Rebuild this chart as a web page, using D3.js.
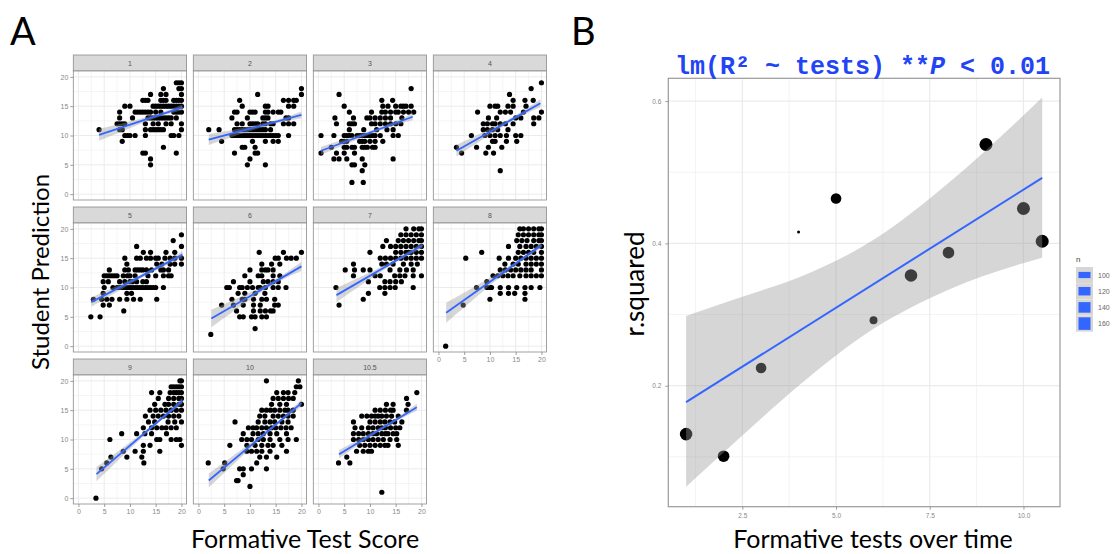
<!DOCTYPE html>
<html>
<head>
<meta charset="utf-8">
<script src="https://cdn.jsdelivr.net/npm/d3@7"></script>
<style>
  body { margin: 0; background: #fff; }
  text { font-family: "Liberation Sans", Arial, sans-serif; }
  .big { font-family: Lato, "Open Sans", sans-serif; fill: #000; }
  text.mono { font-family: "Liberation Mono", "Courier New", monospace; }
</style>
</head>
<body>
<div id="chart"></div>
<script>

// ---- DATA: panel A, one block per formative test ----
// each row: [student prediction, formative score, formative score, ...]
var facetNames = ["1", "2", "3", "4", "5", "6", "7", "8", "9", "10", "10.5"];

var rows1 = [
    [19, 19, 19.5, 20], [18, 16.5, 19.5, 20], [17, 14, 16, 17, 20],
    [16, 12.5, 13, 13.5, 16, 16.5, 17, 18.5, 19, 19.5, 20],
    [15, 9, 10, 14.5, 15, 15.5, 16, 16.5, 17, 17.5, 18, 18.5, 19, 19.5, 20],
    [14, 8, 11, 11.5, 12, 12.5, 13, 13.5, 14, 15, 16, 18.5, 19, 19.5, 20],
    [13, 8, 10.5, 13.5, 14, 14.5, 15, 15.5, 16, 16.5, 17, 17.5, 18, 19],
    [12, 7.5, 8, 8.5, 9, 13, 14.5, 15.5, 17, 18, 20],
    [11, 4, 8, 8.5, 13, 14, 14.5, 15, 15.5, 16, 16.5, 20],
    [10, 9, 9.5, 10, 11, 13, 18, 18.5, 19.5],
    [9, 8.5], [8, 16.5], [7, 12.5, 13, 19], [6, 14], [5, 14]
];
var rows2 = [
    [18, 20], [17, 11.5, 20], [16, 8, 16.5, 17.5, 18.5, 19],
    [15, 8.5, 13, 13.5, 17.5, 18.5],
    [14, 7, 7.5, 10, 10.5, 11, 13, 13.5, 14.5, 15.5, 16],
    [13, 6.5, 9.5, 12.5, 13, 13.5, 17, 17.5],
    [12, 7.5, 8.5, 10, 10.5, 11, 11.5, 12.5, 13, 14, 14.5, 16.5, 17.5, 18.5],
    [11, 2, 4, 7, 7.5, 8, 8.5, 9, 9.5, 10, 10.5, 11, 11.5, 12, 12.5, 13, 14],
    [10, 6.5, 7, 7.5, 8, 8.5, 9, 9.5, 10, 10.5, 11, 11.5, 12, 12.5, 13, 13.5, 14, 14.5, 15, 15.5, 17.5],
    [9, 4.5, 10.5, 13, 14.5, 15.5], [8, 8.5, 9, 11], [7, 7, 11, 11.5], [6, 10], [5, 9.5, 13]
];
var rows3 = [
    [18, 18], [17, 4], [16, 12.3, 14.4],
    [15, 5, 12.5, 13.5, 15, 16, 16.5, 17, 18],
    [14, 6, 10.3, 12.3, 13, 14, 15, 15.5, 16.5, 17.5, 18.5],
    [13, 3.2, 6.8, 9.4, 10, 11, 12, 13, 14, 16.2],
    [12, 3.5, 6, 6.5, 7, 10.3, 11, 12, 13, 14, 15, 16],
    [11, 6, 8.8, 11.3, 13.3, 14.5],
    [10, 0.5, 3, 5, 5.5, 6, 6.5, 7.5, 8, 8.5, 9, 9.5, 10, 10.5, 11, 12, 14.5, 15.5],
    [9, 4.5, 5, 5.5, 8, 8.5, 9, 10, 11, 12.5],
    [8, 2.5, 5, 5.5, 6.5, 7, 8.5, 9, 9.5, 10.5, 11],
    [7, 0.5, 3.5, 5, 7], [6, 3, 4, 5.5, 8.5, 14.5], [5, 6.5, 7, 9], [4, 8.5], [2, 6.5, 8.7]
];
var rows4 = [
    [19, 20], [18, 18], [17, 13.8], [16, 14.5, 16.8, 18.4],
    [15, 10, 11, 11.5, 13.5, 14.5, 17], [14, 7.6, 12, 13, 14, 16.5, 20],
    [13, 9.7, 11.3, 15, 16, 18.5, 19.5], [12, 8.7, 9.5, 10.5, 11, 12, 13, 14.5, 18.5],
    [11, 8.7, 9.5, 10.5, 11.5, 13.5], [10, 6.4, 9, 10, 11, 12, 13.2, 15, 16],
    [9, 10.5, 11, 13.2, 15.2], [8, 3.5, 7.4, 9.7, 12.3], [7, 4.5, 9.2, 10.7], [4, 12]
];
var rows5 = [
    [19, 20], [18, 18.4], [17, 11.3, 20], [16, 12.6, 14, 17, 18.7],
    [15, 9, 11.3, 12, 13.2, 14, 15, 15.5, 16.8, 17.8, 18.7, 20],
    [14, 9.4, 15.2, 16.2, 17.8, 18.7, 20],
    [13, 6, 9, 9.7, 11, 11.5, 12, 12.5, 13.2, 14.2, 16, 16.5, 17.5],
    [12, 5, 5.5, 6, 6.5, 7, 7.5, 8.7, 9.5, 10, 11, 13.5, 15, 16.5, 17.5, 18],
    [11, 4.8, 5.8, 8, 9, 10, 10.5, 11.3, 12.5, 13.2],
    [10, 5, 6.7, 7.5, 8, 8.5, 9, 9.5, 10, 10.5, 11, 11.5, 12, 12.5, 13, 13.5, 14, 14.5, 15, 16.5],
    [9, 4.8, 9.4, 10.3], [8, 2.9, 4.5, 5.5, 6.5, 8, 9.4, 10.7, 12, 15.2],
    [7, 4.8, 6], [6, 8.8], [5, 2.4, 4.2]
];
var rows6 = [
    [16, 11.8, 16.5, 20], [15, 14.9, 15.5, 17.1, 18, 19], [14, 12.3, 14.2, 15.8],
    [13, 10, 12.3, 13, 13.5, 14.5], [12, 9, 11.6, 12.3, 14.5, 15.8],
    [11, 6.8, 10, 12.6, 13.5, 14.5, 15.5],
    [10, 5.5, 6, 8, 8.5, 9.5, 10.5, 11.6, 12, 13, 14.5, 15.5, 17],
    [9, 7.7, 9, 11, 12.9], [8, 6.5, 8.5, 9, 10.7, 12.3, 13.2, 14.8],
    [7, 4.5, 6.8, 8.7, 10.7, 12, 14.8, 15.5], [6, 7.4, 10.7, 12, 13, 14, 14.5],
    [5, 8, 8.7, 10.3, 11, 12.3, 13.2], [3, 11], [2, 2.4]
];
var rows7 = [
    [20, 17, 18.5, 19.5, 20], [19, 16, 17, 18, 19, 20],
    [18, 13.2, 15.5, 16.5, 17.5, 18.5, 19.5, 20],
    [17, 12.5, 14, 15, 16, 17, 18, 19, 20], [16, 10, 15, 16, 17, 17.5, 18, 19, 20],
    [15, 12, 13, 14, 15, 16, 17, 18, 19, 20], [14, 6.8, 12.3, 13.2, 14.5, 16.5, 18, 19.2],
    [13, 5.2, 7, 8.7, 10, 13.9, 15.8, 17.1, 18.4],
    [12, 6.8, 11, 12, 14.8, 15.8, 16.8, 18.4, 20], [11, 9.7, 12.9, 13.9, 15, 16.1],
    [10, 3.4, 11.9, 12.9, 13.9, 14.9, 18.4], [9, 9.7, 12.9], [8, 8.7], [7, 4]
];
var rows8 = [
    [20, 15.8, 16.5, 17.5, 18.5, 19.5, 20], [19, 15.5, 16.5, 17.5, 18.5, 19.5, 20],
    [18, 15.2, 16.2, 17.2, 18.5, 19.5, 20], [17, 13.6, 15.8, 17, 18, 19, 20],
    [16, 8.4, 15.5, 16.5, 17.5, 18.5, 20], [15, 5.3, 11.8, 13.6, 15, 16, 17, 18, 19, 20],
    [14, 12.9, 14.5, 15.5, 17, 18, 19, 20], [13, 12, 13, 14, 15, 16, 17, 18, 20],
    [12, 10.6, 11.5, 12.5, 13.5, 14.5, 15.8, 17, 18, 19, 20], [11, 9.4],
    [10, 7.4, 9.4, 10, 10.3, 12, 13.6, 15.2, 16.8, 18, 19.7],
    [9, 12, 13.6, 14.8, 16.8], [8, 10, 16.8], [7, 4.8], [0, 1.4]
];
var rows9 = [
    [20, 19.7, 20], [19, 18, 18.5, 19, 19.5, 20], [18, 14.2, 15.8, 17.8, 18.5, 19, 19.5, 20],
    [17, 15.5, 17.5, 18.5, 19.5, 20], [16, 14.8, 16.8, 17.5, 18.5, 19.5, 20],
    [15, 13.9, 15, 16, 17, 18, 19, 20], [14, 13, 14.5, 15.5, 16.5, 17.5, 18.5, 19.5],
    [13, 13.6, 14.8, 17.4, 18.7, 20], [12, 12.6, 14.2, 15.2, 16.2, 17, 18, 19],
    [11, 8.4, 11.3, 12.9, 14.2, 17.1], [10, 6.1, 15.2, 15.8, 18, 19, 19.7],
    [9, 12.6, 13.9, 20], [8, 8.7, 11, 12.6, 15.8], [7, 6.3, 9.4, 12.3],
    [6, 5.5, 12.7], [5, 4.5], [0, 3.4]
];
var rows10 = [
    [20, 13.2, 19.4], [19, 19, 19.7], [18, 15.2, 16.5, 17.4, 18.7],
    [17, 14.5, 15.5, 16.5, 17.5, 18.4], [16, 14.2, 15.8, 17.1, 20],
    [15, 12.3, 13.2, 14, 14.8, 15.8, 16.8, 17.4, 18.4],
    [14, 11.9, 12.9, 14.5, 15.5, 16.5, 17.4, 18.4],
    [13, 7.1, 11.6, 12.9, 13.9, 14.8, 16.2, 17.4],
    [12, 9.7, 10.6, 11.3, 12.3, 13.2, 14.2, 15, 16, 17, 18],
    [11, 8.7, 10.6, 11.6, 12.6, 13.9, 15.2, 17.1],
    [10, 8.4, 9.4, 10.3, 11.6, 12.6, 13.9, 15.8, 17.4, 19],
    [9, 6.1, 9.4, 11, 12.3, 13.5, 14.5, 16.2], [8, 9.4, 10.3, 11.3, 12.3, 13.9, 17.1],
    [7, 11.9, 13.2, 15.2], [6, 1.9, 5.1, 11.3], [5, 4.8, 8, 8.7, 10.3, 13.2],
    [4, 8.7], [3, 7.4, 7.7], [2, 10]
];
var rows105 = [
    [18, 19.1], [17, 17.1], [16, 13.2, 14.5, 17.4], [15, 11, 12, 13, 14, 14.5, 17.1],
    [14, 8.4, 9.4, 10.3, 11, 11.6, 12.3, 13.2, 14.2, 15.5],
    [13, 6.8, 10, 11, 12, 12.9, 13.9, 14.8, 16.2],
    [12, 7.1, 8.4, 9.7, 10.6, 11.6, 12.3, 13, 14, 15, 15.8],
    [11, 6.8, 7.8, 8.7, 9.7, 10.6, 11.3, 12.3, 13, 13.5, 14.5, 15.2],
    [10, 6.8, 7.8, 8.7, 9.7, 10.6, 11.6, 12.6, 13.9, 15.2],
    [9, 8, 9, 10, 11, 12, 12.9, 13.5, 15.5], [8, 7.4, 8.7, 9.7, 10.3],
    [7, 5.5], [6, 3.9, 6.1], [1, 12.3]
];
var facetRows = [rows1, rows2, rows3, rows4, rows5, rows6, rows7, rows8, rows9, rows10, rows105];

// fitted line per facet: [x start, y start, x end, y end]
var fitLines = [
    [4, 10.1, 20.2, 14.8], [2, 9.3, 20, 13.5], [0.5, 7.4, 18.3, 13.2], [3.5, 7.4, 19.8, 15.5],
    [2.5, 7.5, 20.2, 15.6], [2.5, 4.7, 20, 13.6], [3.5, 8.7, 20.2, 17.2], [1.5, 5.7, 20, 17.2],
    [3.5, 4.1, 20.2, 16.6], [2, 3.0, 20, 16.2], [4, 7.5, 19.1, 15.5]
];
// confidence band half width: [at start, near centre, at end]
var fitBands = [
    [1.0, 0.35, 0.5], [0.9, 0.3, 0.6], [0.7, 0.3, 0.6], [1.0, 0.35, 0.7],
    [0.8, 0.3, 0.6], [1.5, 0.4, 0.8], [1.2, 0.35, 0.5], [1.7, 0.4, 0.5],
    [1.2, 0.3, 0.5], [1.2, 0.3, 0.6], [0.7, 0.25, 0.6]
];

// ---- DATA: panel B ----
var tests = [1, 2, 3, 4, 5, 6, 7, 8, 9, 10, 10.5];
var rSquared = [0.132, 0.101, 0.225, 0.416, 0.463, 0.292, 0.355, 0.387, 0.539, 0.449, 0.403];
var nStudents = [160, 150, 140, 75, 140, 115, 160, 150, 165, 165, 165];
var fitB = [[1, 0.177], [10.5, 0.492]];
var bandX = [1, 2.5, 4, 6, 8, 10.5];
var bandLow = [0.058, 0.130, 0.200, 0.280, 0.335, 0.380];
var bandHigh = [0.298, 0.325, 0.352, 0.405, 0.485, 0.605];
var legendN = [100, 120, 140, 160];

var ticksA = [0, 5, 10, 15, 20];
var minorA = [2.5, 7.5, 12.5, 17.5];
var ticksBx = [2.5, 5, 7.5, 10];
var minorBx = [1.25, 3.75, 6.25, 8.75];
var ticksBy = [0.2, 0.4, 0.6];
var minorBy = [0.1, 0.3, 0.5];

var blue = "#3366ff";
var gridCol = "#ebebeb";

let svg = d3.select("#chart").append("svg")
    .attr("width", 1115)
    .attr("height", 554);

// ---- PANEL A ----
let colLeft = [73.3, 193.3, 313.3, 433.3],
    panelW = 113.3,
    rowTop = [55, 207, 359],
    stripH = 16,
    panelH = 129;

let xA = d3.scaleLinear().domain([-1, 21]).range([0, panelW]);
let yA = d3.scaleLinear().domain([-1, 21]).range([panelH, 0]);

function styleAxis(g, size) {
    g.select(".domain").remove();
    g.selectAll(".tick line").attr("stroke", "#888").attr("stroke-width", 0.8);
    g.selectAll(".tick text").attr("fill", "#888").attr("font-size", size);
}

facetNames.forEach(function(name, i) {
    let col = i % 4, row = Math.floor(i / 4);
    let g = svg.append("g")
        .attr("transform", "translate(" + colLeft[col] + "," + rowTop[row] + ")");

    // strip
    g.append("rect")
        .attr("width", panelW).attr("height", stripH)
        .attr("fill", "#d9d9d9").attr("stroke", "#8a8a8a").attr("stroke-width", 0.8);
    g.append("text")
        .attr("x", panelW / 2).attr("y", stripH / 2 + 2.5)
        .attr("text-anchor", "middle").attr("font-size", 7).attr("fill", "#555")
        .text(name);

    let p = g.append("g").attr("transform", "translate(0," + stripH + ")");
    p.append("rect").attr("width", panelW).attr("height", panelH).attr("fill", "#fff");

    // grid
    p.selectAll(".minx").data(minorA).enter().append("line")
        .attr("x1", d => xA(d)).attr("x2", d => xA(d)).attr("y1", 0).attr("y2", panelH)
        .attr("stroke", gridCol).attr("stroke-width", 0.5);
    p.selectAll(".miny").data(minorA).enter().append("line")
        .attr("y1", d => yA(d)).attr("y2", d => yA(d)).attr("x1", 0).attr("x2", panelW)
        .attr("stroke", gridCol).attr("stroke-width", 0.5);
    p.selectAll(".majx").data(ticksA).enter().append("line")
        .attr("x1", d => xA(d)).attr("x2", d => xA(d)).attr("y1", 0).attr("y2", panelH)
        .attr("stroke", gridCol).attr("stroke-width", 1);
    p.selectAll(".majy").data(ticksA).enter().append("line")
        .attr("y1", d => yA(d)).attr("y2", d => yA(d)).attr("x1", 0).attr("x2", panelW)
        .attr("stroke", gridCol).attr("stroke-width", 1);

    // points
    let pts = [];
    facetRows[i].forEach(function(r) {
        r.slice(1).forEach(x => pts.push({x: x, y: r[0]}));
    });
    p.selectAll(".dot").data(pts).enter().append("circle")
        .attr("cx", d => xA(d.x)).attr("cy", d => yA(d.y))
        .attr("r", 2.6).attr("fill", "#000");

    // smooth: band then line
    let f = fitLines[i], b = fitBands[i];
    let slope = (f[3] - f[1]) / (f[2] - f[0]);
    let xm = f[0] + 0.62 * (f[2] - f[0]);
    let band = [
        {x: f[0], y: f[1], h: b[0]},
        {x: xm, y: f[1] + slope * (xm - f[0]), h: b[1]},
        {x: f[2], y: f[3], h: b[2]}
    ];
    p.append("path").datum(band)
        .attr("d", d3.area().curve(d3.curveNatural)
            .x(d => xA(d.x)).y0(d => yA(d.y - d.h)).y1(d => yA(d.y + d.h)))
        .attr("fill", "#999").attr("fill-opacity", 0.4);
    p.append("line")
        .attr("x1", xA(f[0])).attr("y1", yA(f[1]))
        .attr("x2", xA(f[2])).attr("y2", yA(f[3]))
        .attr("stroke", blue).attr("stroke-width", 1.8);

    p.append("rect").attr("width", panelW).attr("height", panelH)
        .attr("fill", "none").attr("stroke", "#8a8a8a").attr("stroke-width", 0.8);

    if (col === 0) {
        p.append("g").call(d3.axisLeft(yA).tickValues(ticksA).tickSize(3).tickPadding(2))
            .call(styleAxis, 7);
    }
    if (row === 2 || i === 7) {
        p.append("g").attr("transform", "translate(0," + panelH + ")")
            .call(d3.axisBottom(xA).tickValues(ticksA).tickSize(3).tickPadding(2))
            .call(styleAxis, 7);
    }
});

svg.append("text").attr("class", "big").attr("x", 10).attr("y", 45)
    .attr("font-size", 38).text("A");
svg.append("text").attr("class", "big")
    .attr("transform", "translate(49,272) rotate(-90)")
    .attr("text-anchor", "middle").attr("font-size", 24).text("Student Prediction");
svg.append("text").attr("class", "big").attr("x", 305).attr("y", 548)
    .attr("text-anchor", "middle").attr("font-size", 25).text("Formative Test Score");

// ---- PANEL B ----
let bLeft = 668.3, bTop = 78.3, bW = 391.7, bH = 428.4;
let xB = d3.scaleLinear().domain([0.525, 10.975]).range([0, bW]);
let yB = d3.scaleLinear().domain([0.030, 0.632]).range([bH, 0]);
let sizeB = d3.scaleSqrt().domain([75, 165]).range([1.5, 6.5]);

let gb = svg.append("g").attr("transform", "translate(" + bLeft + "," + bTop + ")");
gb.append("rect").attr("width", bW).attr("height", bH).attr("fill", "#fff");

gb.selectAll(".minx").data(minorBx).enter().append("line")
    .attr("x1", d => xB(d)).attr("x2", d => xB(d)).attr("y1", 0).attr("y2", bH)
    .attr("stroke", gridCol).attr("stroke-width", 0.6);
gb.selectAll(".miny").data(minorBy).enter().append("line")
    .attr("y1", d => yB(d)).attr("y2", d => yB(d)).attr("x1", 0).attr("x2", bW)
    .attr("stroke", gridCol).attr("stroke-width", 0.6);
gb.selectAll(".majx").data(ticksBx).enter().append("line")
    .attr("x1", d => xB(d)).attr("x2", d => xB(d)).attr("y1", 0).attr("y2", bH)
    .attr("stroke", gridCol).attr("stroke-width", 1.2);
gb.selectAll(".majy").data(ticksBy).enter().append("line")
    .attr("y1", d => yB(d)).attr("y2", d => yB(d)).attr("x1", 0).attr("x2", bW)
    .attr("stroke", gridCol).attr("stroke-width", 1.2);

let pointsB = tests.map((t, i) => ({x: t, y: rSquared[i], n: nStudents[i]}));
gb.selectAll(".pt").data(pointsB).enter().append("circle")
    .attr("cx", d => xB(d.x)).attr("cy", d => yB(d.y))
    .attr("r", d => sizeB(d.n)).attr("fill", "#000");

let bandB = bandX.map((x, i) => ({x: x, lo: bandLow[i], hi: bandHigh[i]}));
gb.append("path").datum(bandB)
    .attr("d", d3.area().curve(d3.curveMonotoneX)
        .x(d => xB(d.x)).y0(d => yB(d.lo)).y1(d => yB(d.hi)))
    .attr("fill", "#999").attr("fill-opacity", 0.4);
gb.append("line")
    .attr("x1", xB(fitB[0][0])).attr("y1", yB(fitB[0][1]))
    .attr("x2", xB(fitB[1][0])).attr("y2", yB(fitB[1][1]))
    .attr("stroke", blue).attr("stroke-width", 2);

gb.append("rect").attr("width", bW).attr("height", bH)
    .attr("fill", "none").attr("stroke", "#9a9a9a").attr("stroke-width", 1.2);

gb.append("g").call(d3.axisLeft(yB).tickValues(ticksBy).tickSize(3).tickPadding(4)
        .tickFormat(d3.format(".1f")))
    .call(styleAxis, 6.5);
gb.append("g").attr("transform", "translate(0," + bH + ")")
    .call(d3.axisBottom(xB).tickValues(ticksBx).tickSize(3).tickPadding(4)
        .tickFormat(d3.format(".1f")))
    .call(styleAxis, 6.5);

// legend
let lg = svg.append("g").attr("transform", "translate(1076,258)");
lg.append("text").attr("x", 0).attr("y", 4).attr("font-size", 8).attr("fill", "#444").text("n");
legendN.forEach(function(n, i) {
    let k = lg.append("g").attr("transform", "translate(0," + (9 + i * 16.2) + ")");
    k.append("rect").attr("width", 17).attr("height", 16).attr("fill", "#d6d6d6");
    k.append("rect").attr("x", 2.5).attr("width", 12)
        .attr("y", 8 - sizeB(n)).attr("height", 2 * sizeB(n)).attr("fill", blue);
    k.append("text").attr("x", 22).attr("y", 10.5).attr("font-size", 7)
        .attr("fill", "#666").text(n);
});

svg.append("text").attr("class", "big").attr("x", 571).attr("y", 45)
    .attr("font-size", 38).text("B");

let title = svg.append("text").attr("class", "mono").attr("x", 675).attr("y", 74)
    .attr("font-weight", "bold").attr("font-size", 25).attr("fill", "#2244f5");
title.append("tspan").text("lm(R\u00b2 ~ tests) **");
title.append("tspan").attr("font-style", "italic").text("P");
title.append("tspan").text(" < 0.01");

svg.append("text").attr("class", "big")
    .attr("transform", "translate(644,284) rotate(-90)")
    .attr("text-anchor", "middle").attr("font-size", 26).text("r.squared");
svg.append("text").attr("class", "big").attr("x", 873).attr("y", 548)
    .attr("text-anchor", "middle").attr("font-size", 25).text("Formative tests over time");

</script>
</body>
</html>
